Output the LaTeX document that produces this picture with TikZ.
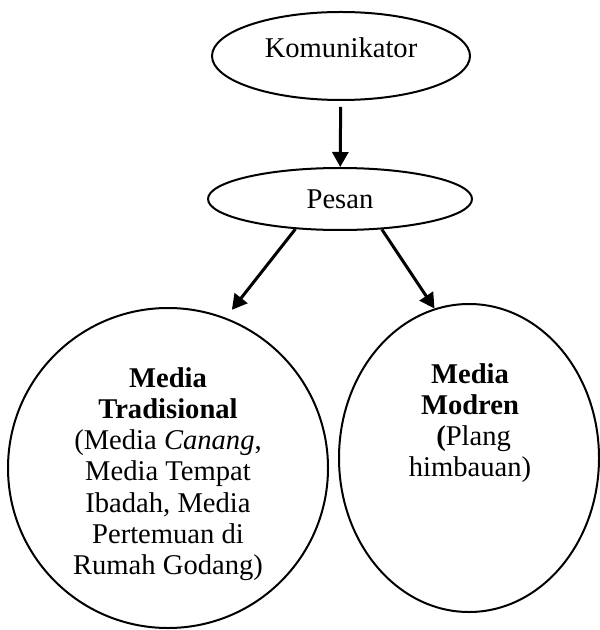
\documentclass[tikz,border=0pt]{standalone}
\usepackage{fontspec}
\setmainfont{Liberation Serif}
\usetikzlibrary{shapes.geometric, arrows.meta}

\begin{document}
\begin{tikzpicture}[x=0.5pt, y=-0.5pt]
      \tikzstyle{bubble} = [draw, ellipse, line width=1pt, inner sep=0pt,
                            font=\fontsize{14.3}{15.6}\selectfont]
      \tikzstyle{words} = [align=center, inner sep=0pt,
                           font=\fontsize{14.3}{15.6}\selectfont]
      \tikzstyle{flow} = [line width=1.5pt,
                          -{Triangle[length=7.5pt, width=8pt]}]

      \useasboundingbox (0,0) rectangle (599,630);

      \node[bubble, minimum width=129pt, minimum height=44pt, text depth=8pt] (komunikator) at (341,56) {Komunikator};
      \node[bubble, minimum width=132pt, minimum height=31pt] (pesan) at (340,199) {Pesan};
      \node[bubble, minimum width=160pt, minimum height=160pt] (tradisional) at (168,468) {};
      \node[bubble, minimum width=130pt, minimum height=154pt] (modren) at (469,458) {};

      \node[words] (tradtext) at (168,474) {\textbf{Media}\\ \textbf{Tradisional}\\
            (Media \textit{Canang},\\ Media Tempat\\ Ibadah, Media\\
            Pertemuan di\\ Rumah Godang)};
      \node[words] (modrentext) at (470,423) {\textbf{Media}\\ \textbf{Modren}\\
            \ \textbf{(}Plang\\ himbauan)};

      \draw[flow, shorten <=3pt] (komunikator) -- (pesan);
      \draw[flow, shorten >=5pt] (pesan.214) -- (tradisional.69);
      \draw[flow] (pesan.324) -- (modren.103);
    \end{tikzpicture}
\end{document}
